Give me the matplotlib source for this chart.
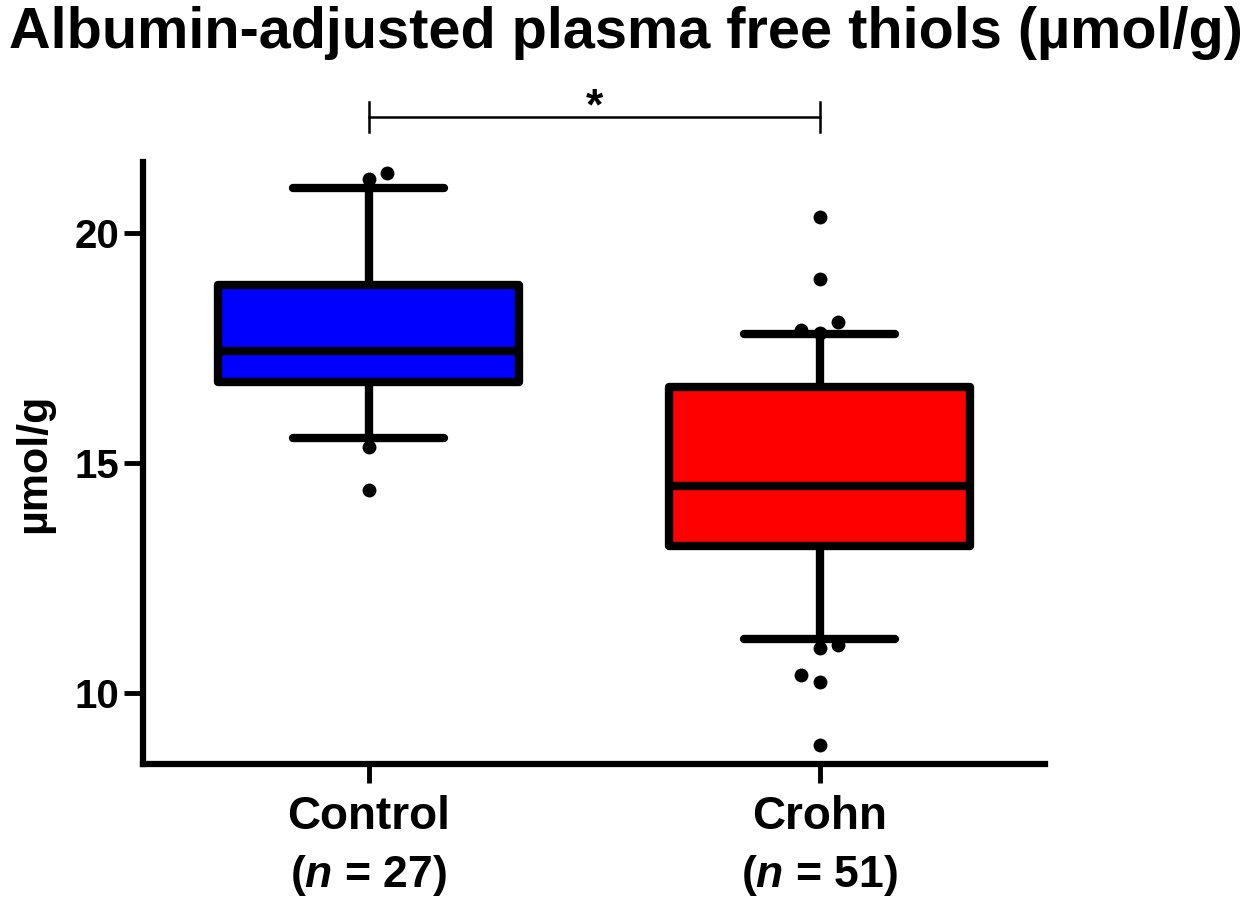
import matplotlib
matplotlib.use("Agg")
import matplotlib.pyplot as plt

plt.rcParams['font.family'] = ['Liberation Sans', 'DejaVu Sans']
plt.rcParams['font.weight'] = 'bold'
plt.rcParams['mathtext.fontset'] = 'custom'
plt.rcParams['mathtext.bfit'] = 'Liberation Sans:italic:bold'
plt.rcParams['mathtext.it'] = 'Liberation Sans:italic:bold'
plt.rcParams['mathtext.rm'] = 'Liberation Sans:bold'

# ---- data ----
groups = ['Control', 'Crohn']
n_values = [27, 51]
q1_vals = [16.76, 13.20]
median_vals = [17.43, 14.50]
q3_vals = [18.87, 16.65]
whisker_low = [15.54, 11.17]
whisker_high = [20.98, 17.80]
control_outliers = [21.17, 21.30, 15.35, 14.41]
control_offsets = [0.0, 0.04, 0.0, 0.0]
crohn_outliers = [20.35, 19.00, 18.07, 17.89, 17.83, 11.04, 10.98, 10.39, 10.24, 8.87]
crohn_offsets = [0.0, 0.0, 0.04, -0.04, 0.0, 0.04, 0.0, -0.04, 0.0, 0.0]
yticks = [10, 15, 20]
box_colors = ['#0000FF', '#FF0000']

fig = plt.figure(figsize=(12.51, 9.01), dpi=100)
ax = fig.add_axes([143/1251, 1-764/901, (1045-143)/1251, (764-162)/901])

stats = []
for i, g in enumerate(groups):
    stats.append(dict(label=g, med=median_vals[i], q1=q1_vals[i], q3=q3_vals[i],
                      whislo=whisker_low[i], whishi=whisker_high[i], fliers=[]))

lw = 6
bp = ax.bxp(stats, positions=[1, 2], widths=0.667, capwidths=0.336,
            showfliers=False, patch_artist=True,
            boxprops=dict(linewidth=lw, edgecolor='black', joinstyle='round'),
            medianprops=dict(linewidth=lw, color='black'),
            whiskerprops=dict(linewidth=lw, color='black'),
            capprops=dict(linewidth=lw, color='black', solid_capstyle='round'))
for patch, c in zip(bp['boxes'], box_colors):
    patch.set_facecolor(c)
for l in bp['whiskers']:
    l.set_zorder(1)

for vals, offs, pos in [(control_outliers, control_offsets, 1), (crohn_outliers, crohn_offsets, 2)]:
    ax.scatter([pos + o for o in offs], vals, s=100, color='black', zorder=4, linewidths=0)

ax.set_xlim(0.5, 2.5)
ax.set_ylim(8.46, 21.54)
ax.set_yticks(yticks)
ax.set_yticklabels([str(t) for t in yticks], fontsize=29, fontweight='bold')
ax.set_xticks([1, 2])
ax.set_xticklabels(groups, fontsize=33, fontweight='bold')
ax.tick_params(axis='both', width=3.5, length=14)
ax.tick_params(axis='y', pad=3)
ax.tick_params(axis='x', pad=8)
for s in ['top', 'right']:
    ax.spines[s].set_visible(False)
for s in ['left', 'bottom']:
    ax.spines[s].set_linewidth(4.5)
    ax.spines[s].set_capstyle('projecting')

for i, n in enumerate(n_values):
    ax.text(i + 1, -0.185, r'($\mathbfit{n}$ = %d)' % n, transform=ax.get_xaxis_transform(),
            ha='center', va='center', fontsize=32, fontweight='bold')

ax.set_ylabel('µmol/g', fontsize=31, fontweight='bold')
ax.yaxis.set_label_coords(-0.098, 0.5)

# significance bracket
yb = 22.52
ax.plot([1, 2], [yb, yb], color='black', lw=1.8, clip_on=False)
ax.plot([1, 1], [yb - 0.33, yb + 0.33], color='black', lw=1.8, clip_on=False)
ax.plot([2, 2], [yb - 0.33, yb + 0.33], color='black', lw=1.8, clip_on=False)
ax.text(1.5, 22.72, '*', ha='center', va='center', fontsize=32, fontweight='bold')

fig.text(0.5, 1 - 33/901, 'Albumin-adjusted plasma free thiols (µmol/g)', ha='center', va='center',
         fontsize=41.5, fontweight='bold')

fig.savefig('out.png', dpi=100, facecolor='white')
